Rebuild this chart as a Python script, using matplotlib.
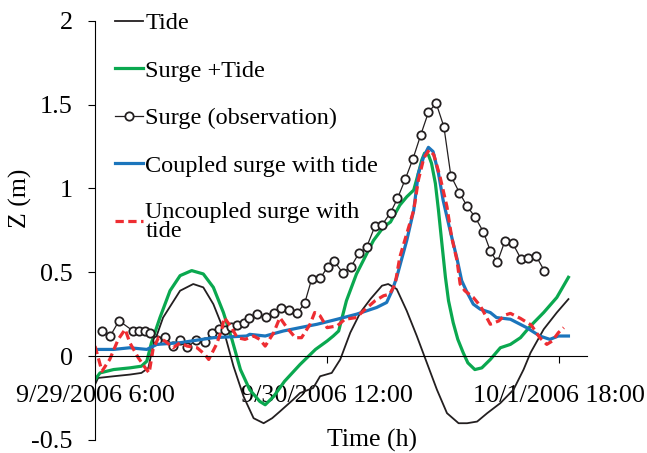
import matplotlib
matplotlib.use('Agg')
import matplotlib.pyplot as plt

# time axis in hours after 9/29/2006 6:00
tick_hours = [0, 30, 60]
tick_labels = ['9/29/2006 6:00', '9/30/2006 12:00', '10/1/2006 18:00']
y_ticks = [-0.5, 0, 0.5, 1, 1.5, 2]
y_labels = ['-0.5', '0', '0.5', '1', '1.5', '2']

# Tide
tide_h = [0, 0.4, 2.4, 4.5, 6.0, 6.9, 7.5, 8.8, 11.0, 12.7, 14.0, 15.3, 16.6, 17.9,
          19.2, 20.5, 21.8, 22.9, 23.9, 25.6, 26.5, 28.2, 29.1, 30.6, 31.7, 33.0,
          34.3, 35.6, 37.1, 37.9, 39.0, 40.3, 41.6, 42.9, 44.2, 45.5, 47.0, 48.1,
          49.4, 50.7, 52.4, 54.1, 55.4, 56.3, 58.0, 59.7, 61.2]
tide_z = [-0.17, -0.13, -0.12, -0.11, -0.10, -0.07, 0.06, 0.23, 0.39, 0.43, 0.41,
          0.31, 0.16, -0.06, -0.24, -0.37, -0.40, -0.37, -0.33, -0.26, -0.22, -0.19,
          -0.12, -0.10, -0.02, 0.14, 0.26, 0.34, 0.42, 0.43, 0.40, 0.27, 0.12, -0.04,
          -0.20, -0.34, -0.40, -0.40, -0.39, -0.34, -0.28, -0.20, -0.08, 0.02, 0.16,
          0.26, 0.34]

# Surge + Tide
st_h = [0, 0.65, 2.4, 4.5, 6.0, 6.7, 7.3, 8.4, 9.7, 11.0, 12.5, 14.0, 15.3, 16.6,
        17.7, 18.8, 20.0, 21.3, 22.0, 23.1, 24.5, 26.5, 28.5, 30.0, 30.8, 31.5, 32.5,
        33.8, 34.9, 36.0, 37.3, 38.2, 39.4, 40.3, 41.2, 41.8, 42.25, 42.6, 43.1, 43.5,
        44.0, 44.4, 44.8, 45.3, 45.7, 46.3, 46.9, 47.6, 48.2, 49.1, 50.0, 51.1, 52.4,
        53.7, 55.0, 56.3, 58.0, 59.7, 61.2]
st_z = [-0.14, -0.10, -0.08, -0.07, -0.06, -0.03, 0.08, 0.23, 0.39, 0.48, 0.51, 0.49,
        0.41, 0.26, 0.10, -0.08, -0.20, -0.27, -0.29, -0.24, -0.15, -0.05, 0.04, 0.09,
        0.12, 0.15, 0.33, 0.49, 0.59, 0.69, 0.77, 0.80, 0.90, 0.95, 0.99, 1.09, 1.17,
        1.21, 1.20, 1.15, 1.03, 0.87, 0.69, 0.47, 0.33, 0.20, 0.10, 0.02, -0.04, -0.08,
        -0.07, -0.02, 0.05, 0.07, 0.11, 0.18, 0.26, 0.35, 0.47]

# Surge (observation)
obs_h = [0.9, 2.0, 3.1, 4.9, 5.7, 6.4, 7.1, 8.0, 9.1, 10.1, 11.0, 11.9, 13.1, 14.2,
         15.1, 16.0, 16.8, 17.6, 18.3, 19.2, 19.9, 21.0, 22.1, 23.1, 24.1, 25.1, 26.1,
         27.1, 28.0, 29.1, 30.1, 30.9, 32.0, 33.1, 34.1, 35.1, 36.2, 37.1, 38.2, 39.1,
         40.1, 41.1, 42.1, 43.1, 44.1, 45.1, 46.0, 47.1, 48.1, 49.1, 50.2, 51.1, 52.0,
         53.0, 54.0, 55.1, 56.0, 57.0, 58.1]
obs_z = [0.151, 0.122, 0.211, 0.151, 0.151, 0.148, 0.140, 0.096, 0.112, 0.060, 0.096,
         0.053, 0.096, 0.086, 0.140, 0.160, 0.155, 0.175, 0.185, 0.199, 0.227, 0.250,
         0.234, 0.255, 0.290, 0.274, 0.255, 0.315, 0.458, 0.464, 0.533, 0.569, 0.497,
         0.533, 0.613, 0.649, 0.776, 0.782, 0.855, 0.940, 1.054, 1.176, 1.318, 1.454,
         1.508, 1.368, 1.076, 0.975, 0.894, 0.831, 0.742, 0.628, 0.559, 0.688, 0.672,
         0.577, 0.583, 0.598, 0.508]

# Coupled surge with tide
cp_h = [0, 2.4, 4.5, 6.7, 8.0, 11.0, 15.3, 19.6, 20.0, 22.0, 24.35, 26.5, 28.7, 31.3,
        33.8, 36.4, 37.7, 38.4, 39.0, 40.3, 41.2, 41.8, 42.5, 43.1, 43.7, 44.4, 45.0,
        45.9, 46.8, 47.4, 48.1, 48.9, 49.8, 51.1, 51.9, 53.7, 55.8, 57.5, 58.8, 59.9,
        61.2]
cp_z = [0.04, 0.04, 0.05, 0.04, 0.07, 0.08, 0.11, 0.12, 0.13, 0.12, 0.15, 0.17, 0.19,
        0.22, 0.25, 0.29, 0.32, 0.39, 0.47, 0.69, 0.87, 1.09, 1.19, 1.245, 1.22, 1.09,
        0.93, 0.75, 0.58, 0.45, 0.38, 0.31, 0.28, 0.26, 0.23, 0.22, 0.17, 0.12, 0.10,
        0.12, 0.12]

# Uncoupled surge with tide
uc_h = [0, 0.9, 1.9, 3.0, 3.9, 4.5, 5.6, 6.5, 7.0, 7.5, 8.2, 9.05, 10.1, 11.0, 11.9,
        13.2, 14.2, 14.7, 15.7, 16.4, 16.7, 17.5, 18.4, 19.4, 20.5, 21.3, 22.0, 23.1,
        23.9, 24.8, 25.9, 26.7, 27.8, 28.4, 29.1, 30.0, 31.3, 32.3, 33.8, 34.7, 36.2,
        37.3, 38.1, 38.8, 39.4, 40.3, 41.2, 41.8, 42.5, 43.2, 43.8, 44.6, 45.5, 46.1,
        46.8, 47.2, 47.8, 48.9, 49.8, 50.4, 51.1, 52.2, 53.0, 53.7, 55.0, 56.4, 57.5,
        58.4, 59.1, 59.9, 60.6]
uc_z = [0.06, -0.09, -0.02, 0.10, 0.16, 0.08, -0.01, -0.07, -0.10, 0.04, 0.11, 0.09,
        0.05, 0.08, 0.06, 0.05, 0.01, -0.02, 0.07, 0.16, 0.23, 0.18, 0.11, 0.10, 0.12,
        0.10, 0.06, 0.14, 0.23, 0.17, 0.11, 0.11, 0.19, 0.26, 0.24, 0.17, 0.18, 0.22,
        0.23, 0.27, 0.33, 0.36, 0.37, 0.43, 0.59, 0.73, 0.87, 1.05, 1.18, 1.23, 1.20,
        1.07, 0.89, 0.71, 0.57, 0.43, 0.39, 0.35, 0.30, 0.25, 0.19, 0.21, 0.245, 0.255,
        0.225, 0.185, 0.11, 0.07, 0.09, 0.14, 0.17]

plt.rcParams['font.family'] = ['Liberation Serif', 'DejaVu Serif']
plt.rcParams['font.size'] = 17.5

fig = plt.figure(figsize=(6.47, 4.53), dpi=100)
ax = fig.add_axes([95 / 647, 1 - 440 / 453, (587 - 95) / 647, (440 - 20.7) / 453])

ax.plot(tide_h, tide_z, color='#231f20', lw=1.3, label='Tide')
ax.plot(st_h, st_z, color='#0aa84f', lw=2.3, label='Surge +Tide')
ax.plot(obs_h, obs_z, color='#231f20', lw=0.9, marker='o', markersize=6,
        markerfacecolor='white', markeredgewidth=1.3, label='Surge (observation)')
ax.plot(cp_h, cp_z, color='#1b75bc', lw=2.3, label='Coupled surge with tide')
ax.plot(uc_h, uc_z, color='#ee2d32', lw=2.3, ls=(0, (2.6, 1.4)),
        label='Uncoupled surge with\ntide')

ax.set_xlim(0, 63.6)
ax.set_ylim(-0.5, 2)
ax.spines['top'].set_visible(False)
ax.spines['right'].set_visible(False)
ax.spines['bottom'].set_position(('data', 0))
ax.set_xticks(tick_hours)
ax.set_xticklabels(tick_labels, fontsize=18.8)
ax.set_yticks(y_ticks)
ax.set_yticklabels(y_labels, fontsize=18.8)
ax.tick_params(axis='x', direction='out', length=5, width=0.8, pad=16)
ax.tick_params(axis='y', direction='out', length=5, width=0.8, pad=11)

fig.text(372 / 647, 1 - 440 / 453, 'Time (h)', ha='center', va='center', fontsize=18.5)
fig.text(20 / 647, 1 - 198 / 453, 'Z (m)', ha='center', va='center', rotation=90,
         fontsize=18.5)

leg = ax.legend(loc='upper left', bbox_to_anchor=(115 / 647, 1 - 12 / 453),
                bbox_transform=fig.transFigure, frameon=False, borderpad=0,
                borderaxespad=0, handlelength=1.15, handletextpad=0.1,
                labelspacing=1.05)
for t in leg.get_texts():
    t.set_linespacing(0.85)

fig.savefig('out.png', dpi=100)
